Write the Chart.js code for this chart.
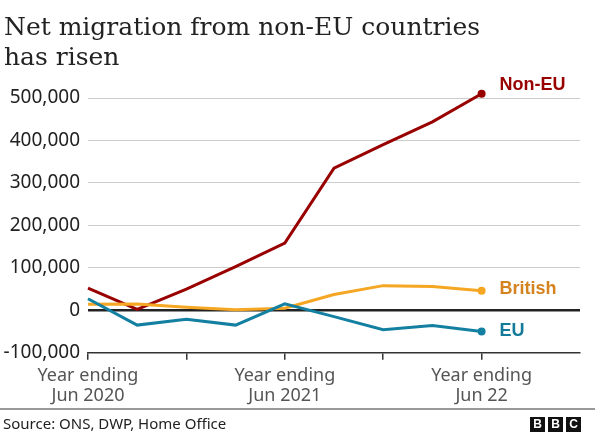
<!DOCTYPE html>
<html>
<head>
<meta charset="utf-8">
<script src="https://cdn.jsdelivr.net/npm/chart.js@4/dist/chart.umd.min.js"></script>
<style>
  html, body { margin: 0; padding: 0; background: #fff; }
  #wrap { width: 595px; height: 435px; position: relative; }
</style>
</head>
<body>
<div id="wrap"><canvas id="c" width="595" height="435"></canvas></div>
<script>
// ---- data ----
const categories = ['Jun 2020', 'Sep 2020', 'Dec 2020', 'Mar 2021', 'Jun 2021', 'Sep 2021', 'Dec 2021', 'Mar 2022', 'Jun 2022'];
const nonEU   = [52000, 2000, 50000, 103000, 158000, 335000, 390000, 444000, 510000];
const british = [14000, 15000, 7000, 1000, 5000, 37000, 58000, 56000, 46000];
const eu      = [27000, -35000, -21000, -35000, 15000, -15000, -46000, -36000, -50000];
const seriesNames = ['Non-EU', 'British', 'EU'];
const yTickValues = [-100000, 0, 100000, 200000, 300000, 400000, 500000];
const xTickPositions = [0, 2, 4, 6, 8];
const xTickLabels = [['Year ending', 'Jun 2020'], '', ['Year ending', 'Jun 2021'], '', ['Year ending', 'Jun 22']];
const titleLines = ['Net migration from non-EU countries', 'has risen'];
const sourceText = 'Source: ONS, DWP, Home Office';

const toPoints = arr => arr.map((v, i) => ({ x: i, y: v }));

const lineColors  = ['#990000', '#F5A623', '#1380A1'];
const labelColors = ['#990000', '#D4831E', '#137A99'];
const labelDy     = [-9, -2, 0];

const fmt = v => v.toLocaleString('en-GB');

const decorPlugin = {
  id: 'decor',
  afterDraw(chart) {
    const ctx = chart.ctx;
    ctx.save();
    // title
    ctx.fillStyle = '#222';
    ctx.font = '25px "DejaVu Serif"';
    ctx.textBaseline = 'alphabetic';
    ctx.textAlign = 'left';
    ctx.fillText(titleLines[0], 4, 35);
    ctx.fillText(titleLines[1], 4, 65);
    // source rule + text
    ctx.strokeStyle = '#999';
    ctx.lineWidth = 2;
    ctx.beginPath();
    ctx.moveTo(0, 409);
    ctx.lineTo(595, 409);
    ctx.stroke();
    ctx.fillStyle = '#222';
    ctx.font = '15px "Noto Sans"';
    ctx.fillText(sourceText, 3, 429);
    // BBC blocks
    const letters = ['B', 'B', 'C'];
    letters.forEach((l, i) => {
      const bx = 530 + i * 18;
      ctx.fillStyle = '#111';
      ctx.fillRect(bx, 417, 15, 15);
      ctx.fillStyle = '#fff';
      ctx.font = 'bold 12px "Liberation Sans"';
      ctx.textAlign = 'center';
      ctx.textBaseline = 'middle';
      ctx.fillText(l, bx + 7.5, 425);
    });
    ctx.restore();
  },
  afterDatasetsDraw(chart) {
    const ctx = chart.ctx;
    ctx.save();
    ctx.font = 'bold 18px "Liberation Sans"';
    ctx.textAlign = 'left';
    ctx.textBaseline = 'middle';
    chart.data.datasets.forEach((ds, i) => {
      const k = seriesNames.indexOf(ds.label);
      const meta = chart.getDatasetMeta(i);
      const p = meta.data[meta.data.length - 1];
      ctx.fillStyle = labelColors[k];
      ctx.fillText(seriesNames[k], p.x + 18, p.y + labelDy[k]);
    });
    ctx.restore();
  }
};

const lastOnly = arr => arr.map((_, i) => i === arr.length - 1 ? 4 : 0);

const datasets = [nonEU, british, eu].map((arr, i) => ({
  label: seriesNames[i],
  data: toPoints(arr),
  borderColor: lineColors[i],
  backgroundColor: lineColors[i],
  borderWidth: 3,
  pointRadius: lastOnly(arr),
  pointHoverRadius: lastOnly(arr),
  pointBorderWidth: 0,
  tension: 0,
  clip: false
}));

new Chart(document.getElementById('c'), {
  type: 'line',
  data: { datasets: datasets.slice().reverse() },
  options: {
    responsive: false,
    animation: false,
    events: [],
    layout: { padding: { top: 85.3, right: 15, left: 0, bottom: 26.3 } },
    plugins: { legend: { display: false }, tooltip: { enabled: false }, title: { display: false } },
    scales: {
      x: {
        type: 'linear',
        min: 0,
        max: 10,
        afterBuildTicks(scale) { scale.ticks = xTickPositions.map(v => ({ value: v })); },
        afterFit(scale) { scale.height = 56; },
        border: { display: true, color: '#333', width: 1.5 },
        grid: { display: true, drawOnChartArea: false, drawTicks: true, tickLength: 7, color: '#333', lineWidth: 1.5 },
        ticks: {
          autoSkip: false,
          maxRotation: 0,
          padding: 6,
          color: '#555',
          font: { family: '"Noto Sans"', size: 18, lineHeight: 20 / 18 },
          callback(value) { const k = xTickPositions.indexOf(value); return k >= 0 ? xTickLabels[k] : ''; }
        }
      },
      y: {
        min: -100000,
        max: 530000,
        afterBuildTicks(scale) { scale.ticks = yTickValues.map(v => ({ value: v })); },
        afterFit(scale) { scale.width = 88; },
        border: { display: false },
        grid: {
          drawTicks: false,
          color: c => c.tick.value === 0 ? '#222' : (c.tick.value === -100000 ? 'rgba(0,0,0,0)' : '#ccc'),
          lineWidth: c => c.tick.value === 0 ? 2.5 : 1
        },
        ticks: {
          padding: 8,
          color: '#222',
          font: { family: '"Noto Sans"', size: 19 },
          callback: v => fmt(v)
        }
      }
    }
  },
  plugins: [decorPlugin]
});
</script>
</body>
</html>
